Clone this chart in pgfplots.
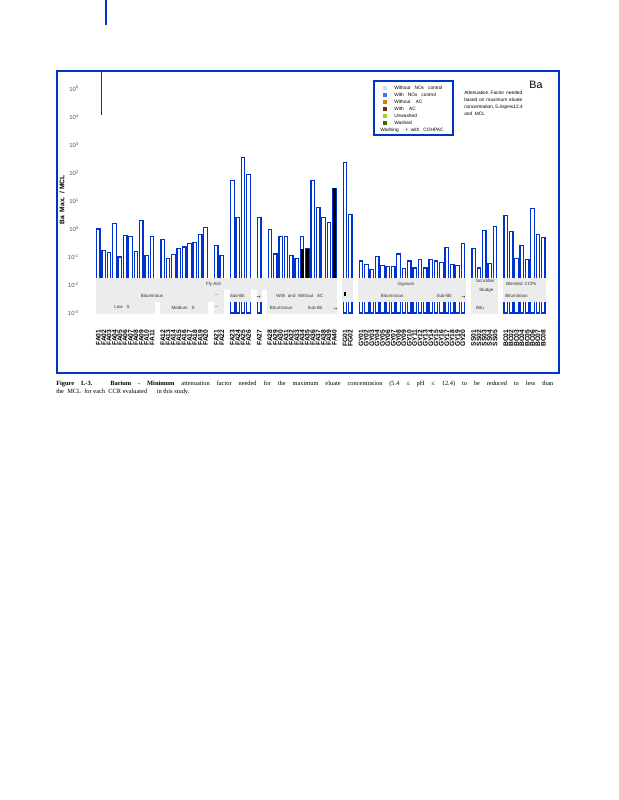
\documentclass[border=0pt]{standalone}
\usepackage{pgfplots}
\pgfplotsset{compat=1.18}
\usepackage{pgfplotstable}
\usepackage{fontspec}
\setmainfont{Liberation Sans}
\newfontfamily\capfont{Liberation Serif}
\newfontfamily\symfont{DejaVu Sans}

\definecolor{barblue}{RGB}{0,51,204}
\definecolor{bandgray}{RGB}{236,236,236}
\definecolor{tickgray}{RGB}{85,85,85}
\definecolor{lgA}{RGB}{190,228,250}
\definecolor{lgB}{RGB}{70,110,240}
\definecolor{lgC}{RGB}{200,130,0}
\definecolor{lgD}{RGB}{100,50,10}
\definecolor{lgE}{RGB}{160,210,30}
\definecolor{lgF}{RGB}{60,100,20}

\newcommand{\bandfont}{\fontsize{3.4}{4}\selectfont\color{black!80}}
\newcommand{\smallfont}{\fontsize{3.6}{4.2}\selectfont}

% Ba max / MCL, one row per CCR (slot = position along the axis)
\pgfplotstableread{
x y
0 1.00
1 0.170
2 0.141
3 1.58
4 0.100
5 0.589
6 0.525
7 0.158
8 2.00
9 0.110
10 0.525
12 0.417
13 0.089
14 0.120
15 0.195
16 0.229
17 0.295
18 0.324
19 0.617
20 1.10
22 0.251
23 0.110
25 53.7
26 2.51
27 355
28 89.1
30 2.51
32 0.933
33 0.129
34 0.525
35 0.525
36 0.110
37 0.087
38 0.525
39 0.195
40 53.7
41 5.75
42 2.51
43 1.66
44 28.2
46 240
47 3.31
49 0.0724
50 0.0525
51 0.0347
52 0.102
53 0.0490
54 0.0447
55 0.0447
56 0.129
57 0.0380
58 0.0724
59 0.0407
60 0.0794
61 0.0407
62 0.0794
63 0.0724
64 0.0617
65 0.214
66 0.0525
67 0.0490
68 0.295
70 0.195
71 0.0407
72 0.871
73 0.0575
74 1.20
76 2.95
77 0.794
78 0.0871
79 0.251
80 0.0794
81 5.25
82 0.617
83 0.490
}\bafactor

\pgfplotstableread{
x y
38 0.19
39 0.19
44 28.2
}\bawithac

\begin{document}
\begin{tikzpicture}
\fill[white] (0,0) rectangle (463.5pt,600pt);
\begin{axis}[
  at={(71.78pt,365.25pt)}, anchor=south west,
  scale only axis, width=337.7pt, height=181.5pt,
  xmin=-0.5, xmax=83.5,
  ymode=log, ymin=1e-3, ymax=4.365e5, log origin y=infty,
  axis line style={draw=none}, tick style={draw=none},
  ytick={1e-3,1e-2,1e-1,1,1e1,1e2,1e3,1e4,1e5},
  yticklabels={10\textsuperscript{-3},10\textsuperscript{-2},10\textsuperscript{-1},10\textsuperscript{0},10\textsuperscript{1},10\textsuperscript{2},10\textsuperscript{3},10\textsuperscript{4},10\textsuperscript{5}},
  yticklabel style={font=\fontsize{4.5}{5}\selectfont, text=tickgray},
  yticklabel shift=9pt,
  xtick={0,1,2,3,4,5,6,7,8,9,10,12,13,14,15,16,17,18,19,20,22,23,25,26,27,28,30,32,33,34,35,36,37,38,39,40,41,42,43,44,46,47,49,50,51,52,53,54,55,56,57,58,59,60,61,62,63,64,65,66,67,68,70,71,72,73,74,76,77,78,79,80,81,82,83},
  xticklabels={FA01,FA02,FA03,FA04,FA05,FA06,FA07,FA08,FA09,FA10,FA11,FA12,FA13,FA14,FA15,FA16,FA17,FA18,FA19,FA20,FA21,FA22,FA23,FA24,FA25,FA26,FA27,FA28,FA29,FA30,FA31,FA32,FA33,FA34,FA35,FA36,FA37,FA38,FA39,FA40,FG01,FG02,GY01,GY02,GY03,GY04,GY05,GY06,GY07,GY08,GY09,GY10,GY11,GY12,GY13,GY14,GY15,GY16,GY17,GY18,GY19,GY20,SS01,SS02,SS03,SS04,SS05,BC01,BC02,BC03,BC04,BC05,BC06,BC07,BC08},
  xticklabel style={rotate=90, anchor=east, font=\fontsize{5}{5}\selectfont\bfseries},
  xticklabel shift=9pt,
  clip=false,
]
\addplot[ybar, bar width=0.65, bar shift=0pt, draw=barblue, fill=white, line width=0.95pt] table[x=x,y=y]{\bafactor};
\addplot[ybar, bar width=0.45, bar shift=0pt, draw=black, fill=black, line width=0.4pt] table[x=x,y=y]{\bawithac};

% category bands under the bars
\fill[bandgray] (axis cs:-0.5,0.00661) rectangle (axis cs:44.5,0.01778);
\fill[bandgray] (axis cs:-0.5,0.002455) rectangle (axis cs:23.5,0.00661);
\fill[bandgray] (axis cs:-0.5,0.00090) rectangle (axis cs:10.5,0.002455);
\fill[bandgray] (axis cs:11.5,0.00090) rectangle (axis cs:20.5,0.002455);
\fill[bandgray] (axis cs:21.5,0.00090) rectangle (axis cs:23.5,0.002455);
\fill[bandgray] (axis cs:24.5,0.002455) rectangle (axis cs:28.5,0.00661);
\fill[bandgray] (axis cs:29.5,0.002455) rectangle (axis cs:30.5,0.00661);
\fill[bandgray] (axis cs:31.5,0.00090) rectangle (axis cs:44.5,0.00661);
\fill[bandgray] (axis cs:45.5,0.002455) rectangle (axis cs:47.5,0.01778);
\fill[bandgray] (axis cs:48.5,0.002455) rectangle (axis cs:68.5,0.01778);
\fill[bandgray] (axis cs:69.5,0.00090) rectangle (axis cs:74.5,0.01778);
\fill[bandgray] (axis cs:75.5,0.002455) rectangle (axis cs:83.5,0.01778);

\node[font=\bandfont] at (axis cs:21.5,0.01087) {Fly Ash};
\node[font=\bandfont] at (axis cs:10,0.00405) {Bituminous};
\node[font=\bandfont] at (axis cs:25.9,0.00405) {Sub-Bit};
\node[font=\bandfont] at (axis cs:37.6,0.00405) {With\ \ and\ \ Without\ \ \ AC};
\node[font=\bandfont] at (axis cs:4.4,0.00158) {Low\ \ \ S};
\node[font=\bandfont] at (axis cs:15.8,0.00158) {Medium\ \ \ S};
\node[font=\bandfont] at (axis cs:22,0.00405) {--};
\node[font=\bandfont] at (axis cs:22,0.00158) {--};
\node[font=\bandfont] at (axis cs:34.1,0.00158) {Bituminous};
\node[font=\bandfont] at (axis cs:40.4,0.00158) {Sub-Bit};
\node[font=\fontsize{3.5}{4}\symfont] at (axis cs:44.2,0.00140) {→};
\node[font=\fontsize{3.5}{4}\symfont] at (axis cs:29.9,0.00360) {→};
\node[inner sep=0pt, fill=black, minimum width=1.6pt, minimum height=2.6pt] at (axis cs:46,0.0047) {};
\node[font=\bandfont] at (axis cs:57.4,0.01087) {Gypsum};
\node[font=\bandfont] at (axis cs:54.8,0.00405) {Bituminous};
\node[font=\bandfont] at (axis cs:64.5,0.00405) {Sub-Bit};
\node[font=\fontsize{3.5}{4}\symfont] at (axis cs:68.1,0.00360) {→};
\node[font=\bandfont, anchor=west] at (axis cs:69.6,0.0140) {Scrubber};
\node[font=\bandfont, anchor=west] at (axis cs:70.2,0.0066) {Sludge};
\node[font=\bandfont, anchor=west] at (axis cs:69.6,0.00158) {Bitu};
\node[font=\bandfont] at (axis cs:77.6,0.01087) {Blended};
\node[font=\bandfont] at (axis cs:80.6,0.01087) {CCPs};
\node[font=\bandfont] at (axis cs:78.0,0.00405) {Bituminous};
\end{axis}

% outer frame and stray rules
\draw[barblue, line width=1pt] (42.75pt,320.25pt) rectangle (419.25pt,546.75pt);
\draw[barblue, line width=0.8pt] (76.3pt,546.75pt) -- (76.3pt,513.75pt);
\draw[barblue, line width=0.8pt] (79.5pt,600pt) -- (79.5pt,581.25pt);

% y label
\node[rotate=90, font=\fontsize{5}{6}\selectfont\bfseries] at (46.5pt,450pt) {Ba\ \ Max.\ \ / MCL};

% legend
\draw[barblue, line width=0.9pt] (280.5pt,498.75pt) rectangle (339.75pt,539.25pt);
\foreach \c/\t [count=\i from 0] in {lgA/{Without\ \ \ NOx\ \ \ control},lgB/{With\ \ \ NOx\ \ \ control},lgC/{Without\ \ \ \ AC},lgD/{With\ \ \ \ AC},lgE/{Unwashed},lgF/{Washed}}{
  \fill[\c] ({288.75pt-1.5pt},{534pt-5.25pt*\i-1.5pt}) rectangle ++(3pt,3pt);
  \node[anchor=west, inner sep=0pt, font=\smallfont] at (295.5pt,{534pt-5.25pt*\i}) {\t};
}
\node[anchor=west, inner sep=0pt, font=\smallfont] at (285pt,502.5pt) {Washing\ \ \ \ \ +\ \ with\ \ \ COHPAC};

% note and element
\node[font=\fontsize{8}{9}\selectfont] at (402pt,536.25pt) {Ba};
\node[anchor=base west, inner sep=0pt, font=\smallfont] at (348pt,528.75pt) {\makebox[43.5pt][s]{Attenuation Factor needed}};
\node[anchor=base west, inner sep=0pt, font=\smallfont] at (348pt,523.5pt) {\makebox[43.5pt][s]{based on maximum eluate}};
\node[anchor=base west, inner sep=0pt, font=\smallfont] at (348pt,518.25pt) {\makebox[43.5pt][s]{concentration, 5.4≤pH≤12.4}};
\node[anchor=base west, inner sep=0pt, font=\smallfont] at (348pt,513pt) {and\ \ MCL};

% caption
\node[anchor=base west, inner sep=0pt, font=\fontsize{4.8}{6}\capfont] at (42pt,310.5pt) {\makebox[372.75pt][s]{\bfseries Figure L-3. Barium - Minimum \mdseries attenuation factor needed for the maximum eluate concentration (5.4 ≤ pH ≤ 12.4) to be reduced to less than}};
\node[anchor=base west, inner sep=0pt, font=\fontsize{4.8}{6}\capfont] at (42pt,304.5pt) {the\ \ MCL\ \ for each\ \ CCR evaluated\ \ \ \ \ \ in this study.};

\pgfresetboundingbox
\useasboundingbox (0,0) rectangle (463.5pt,600pt);
\end{tikzpicture}
\end{document}
